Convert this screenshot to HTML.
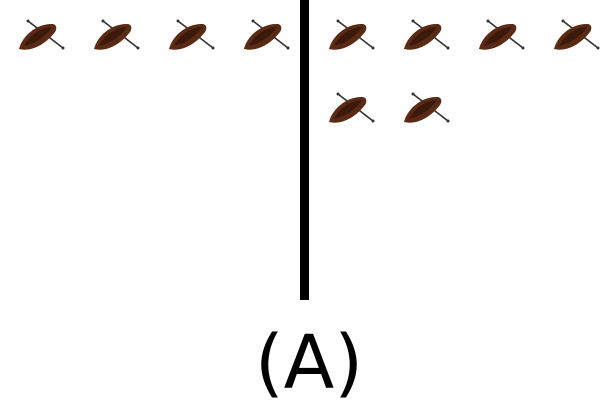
<!DOCTYPE html>
<html><head><meta charset="utf-8"><style>
body{margin:0;background:#fff;width:610px;height:400px;overflow:hidden}
</style></head><body>
<svg id="c" width="610" height="400">
<defs><g id="boat">
<line x1="-9" y1="-17" x2="26" y2="10" stroke="#333" stroke-width="1.6"/>
<path d="M-18,11 C-15,-2 0,-15 16,-14 C20,-13 20,-9 18,-6 C8,7 -6,14 -18,11 Z" fill="#5a2a14"/>
<path d="M-13,8 C-9,-1 3,-11 15,-11 C10,-3 0,5 -13,8 Z" fill="#3b1a0b"/>
<circle cx="-9" cy="-17" r="1.5" fill="#333"/><circle cx="26" cy="10" r="1.5" fill="#333"/>
</g></defs>
<rect x="300" y="0" width="9" height="300" fill="#000"/>
<text x="309" y="388" font-family="DejaVu Sans, Liberation Sans, sans-serif" font-size="74" text-anchor="middle">(A)</text>
</svg>
<script>
const groups=["left","right"];
const counts=[4,6];
const svg=document.getElementById('c');
const NS='http://www.w3.org/2000/svg';
const perRow=4, dx=75, dy=73;
const startX=[37,347], startY=38;
groups.forEach((g,gi)=>{
  for(let i=0;i<counts[gi];i++){
    const u=document.createElementNS(NS,'use');
    u.setAttribute('href','#boat');
    const x=startX[gi]+(i%perRow)*dx, y=startY+Math.floor(i/perRow)*dy;
    u.setAttribute('transform','translate('+x+','+y+')');
    
    
    svg.appendChild(u);
  }
});
</script>
</body></html>
